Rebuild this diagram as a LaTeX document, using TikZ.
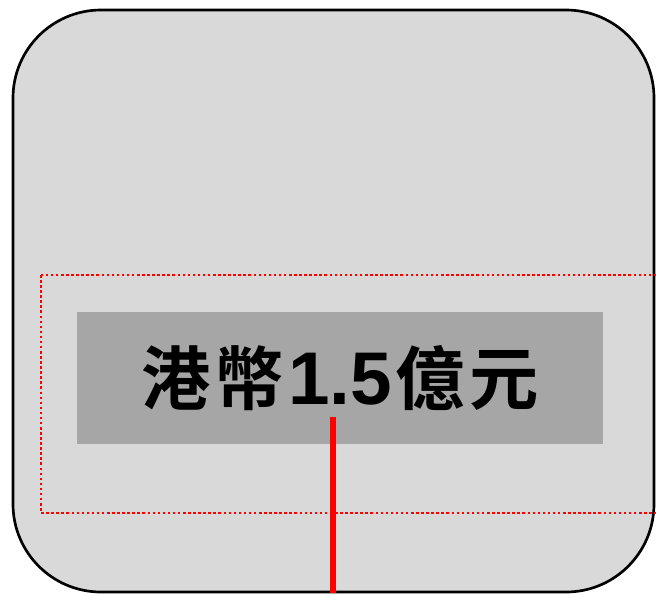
\documentclass[tikz,border=0pt]{standalone}
\usepackage{fontspec}
\newfontfamily\cjkbold{Noto Sans CJK TC Bold}
\newfontfamily\numfont{Liberation Sans}
\usetikzlibrary{positioning}

\definecolor{panelgray}{HTML}{D9D9D9}
\definecolor{boxgray}{HTML}{A6A6A6}

\newcommand{\amountnum}[1]{{\numfont\bfseries\fontsize{56}{60}\selectfont #1}}
\newcommand{\gap}{\hspace{3pt}}

\tikzset{
    panel/.style={fill=panelgray, draw=black, line width=2pt, rounded corners=66pt},
    frame/.style={draw=red, line width=1.9pt, dash pattern=on 1.9pt off 1.9pt},
    amountbox/.style={fill=boxgray, minimum width=394.5pt, minimum height=99pt,
        inner sep=0pt, font=\cjkbold\fontsize{52}{56}\selectfont},
    marker/.style={draw=red, line width=3.8pt}
}

\begin{document}
\begin{tikzpicture}[x=0.75pt, y=-0.75pt]  % 以像素为单位, y 向下

    % 固定画布大小
    \useasboundingbox (0,0) rectangle (656,593);

    % 圆角底板
    \draw[panel] (13,10) rectangle (654,592);

    % 红色虚线框 (右侧超出画布)
    \draw[frame] (41,275) rectangle (668,513);

    % 金额框
    \node[amountbox] (amount) at (340,378) {港\gap 幣\gap\amountnum{1.5}\gap 億\gap 元};

    % 红色竖线
    \coordinate (top) at (333,417);
    \coordinate (bottom) at (333,593);
    \draw[marker] (top) -- (bottom);

\end{tikzpicture}
\end{document}
